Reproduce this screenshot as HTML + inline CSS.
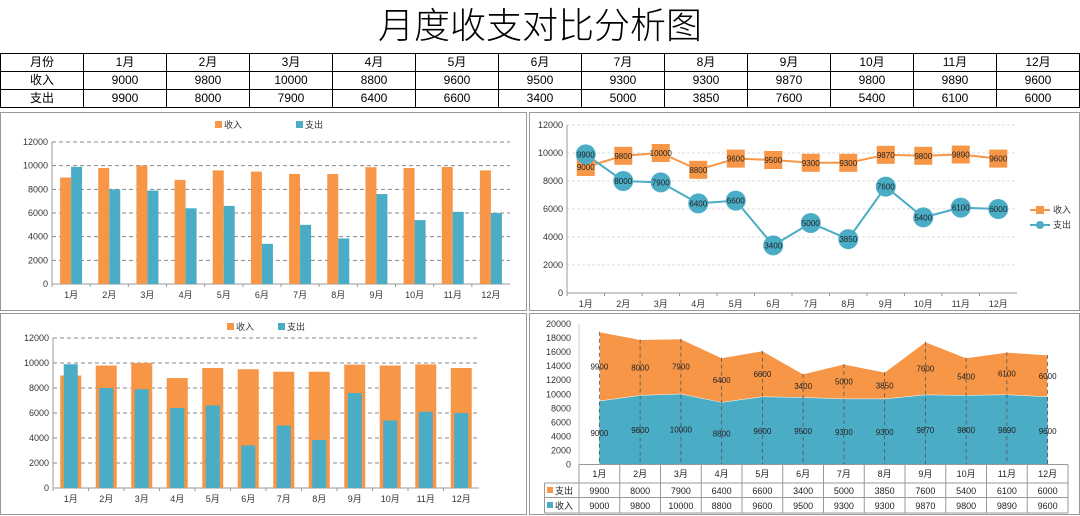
<!DOCTYPE html>
<html><head><meta charset="utf-8">
<style>
body{margin:0;background:#fff;width:1080px;height:516px;overflow:hidden;font-family:"Liberation Sans","Noto Sans CJK SC",sans-serif}
#title{position:absolute;left:0;top:4px;width:1080px;text-align:center;font-family:"Liberation Sans","Noto Sans CJK SC",sans-serif;font-weight:300;font-size:36px;line-height:44px;color:#000}
#tbl{position:absolute;left:0;top:53px;border-collapse:collapse;font-family:"Liberation Sans","Noto Sans CJK SC",sans-serif;font-size:12px}
#tbl td{border:1px solid #000;width:82px;height:17px;padding:0;text-align:center;line-height:17px}
svg{position:absolute;left:0;top:0}
</style></head><body>
<div id="title">月度收支对比分析图</div>
<table id="tbl">
<tr><td>月份</td><td>1月</td><td>2月</td><td>3月</td><td>4月</td><td>5月</td><td>6月</td><td>7月</td><td>8月</td><td>9月</td><td>10月</td><td>11月</td><td>12月</td></tr>
<tr><td>收入</td><td>9000</td><td>9800</td><td>10000</td><td>8800</td><td>9600</td><td>9500</td><td>9300</td><td>9300</td><td>9870</td><td>9800</td><td>9890</td><td>9600</td></tr>
<tr><td>支出</td><td>9900</td><td>8000</td><td>7900</td><td>6400</td><td>6600</td><td>3400</td><td>5000</td><td>3850</td><td>7600</td><td>5400</td><td>6100</td><td>6000</td></tr>
</table>
<svg id="s" width="1080" height="516"></svg>
<script>
const categories=["1月","2月","3月","4月","5月","6月","7月","8月","9月","10月","11月","12月"];
const income=[9000,9800,10000,8800,9600,9500,9300,9300,9870,9800,9890,9600];
const expense=[9900,8000,7900,6400,6600,3400,5000,3850,7600,5400,6100,6000];
const ticks12=[0,2000,4000,6000,8000,10000,12000];
const ticks20=[0,2000,4000,6000,8000,10000,12000,14000,16000,18000,20000];
const OR="#F79646",BL="#4BACC6";
const svg=document.getElementById('s');
const NS="http://www.w3.org/2000/svg";
function mk(tag,at,parent,txt){const e=document.createElementNS(NS,tag);for(const k in at)e.setAttribute(k,at[k]);if(txt!==undefined)e.textContent=txt;(parent||svg).appendChild(e);return e;}
function grp(name){const g=mk('g',{});return g;}
function panel(x,y,w,h,name){const r=mk('rect',{x:x+.5,y:y+.5,width:w,height:h,fill:'#fff',stroke:'#999','stroke-width':1});}
panel(0,112,526,198,'bar-chart-panel');panel(529,112,550,198,'line-chart-panel');
panel(0,313,526,201,'overlap-bar-chart-panel');panel(529,313,550,201,'area-chart-panel');
const FS="font-family:'Liberation Sans','Noto Sans CJK SC',sans-serif";
function axes(g,L,R,T,B,max,ticks,gridCol,dash){
  const y=v=>B-(v/max)*(B-T);
  ticks.forEach(t=>{
    if(t>0)mk('line',{x1:L,x2:R,y1:y(t),y2:y(t),stroke:gridCol,'stroke-dasharray':dash},g);
    mk('text',{x:L-4,y:y(t)+3,'text-anchor':'end','font-size':9,fill:'#333',style:FS},g,t);
  });
  mk('line',{x1:L,x2:L,y1:T,y2:B,stroke:'#999'},g);
  mk('line',{x1:L,x2:R,y1:B,y2:B,stroke:'#999'},g);
  return y;
}
function legendBox(g,x,y,col,txt){mk('rect',{x:x,y:y-4,width:7,height:7,fill:col},g);mk('text',{x:x+9,y:y+3,'font-size':9,fill:'#333',style:FS},g,txt);}
(function(){
  const g=grp('clustered-bar-chart');const L=52,R=510,T=142,B=284;
  const y=axes(g,L,R,T,B,12000,ticks12,'#888','4,3');
  const cw=(R-L)/categories.length;
  categories.forEach((c,i)=>{
    const cx=L+cw*(i+.5);
    mk('line',{x1:L+cw*i,x2:L+cw*i,y1:B,y2:B+3,stroke:'#999'},g);
    const b1=mk('rect',{x:cx-11,y:y(income[i]),width:11,height:B-y(income[i]),fill:OR},g);
    
    const b2=mk('rect',{x:cx,y:y(expense[i]),width:11,height:B-y(expense[i]),fill:BL},g);
    
    mk('text',{x:cx,y:298,'text-anchor':'middle','font-size':9,fill:'#333',style:FS},g,c);
  });
  legendBox(g,215,125,OR,'收入');legendBox(g,296,125,BL,'支出');
})();
(function(){
  const g=grp('line-chart');const L=567,R=1017,T=125,B=293;
  const y=axes(g,L,R,T,B,12000,ticks12,'#ddd','3,2');
  const cw=(R-L)/categories.length;const X=i=>L+cw*(i+.5);
  categories.forEach((c,i)=>{mk('line',{x1:L+cw*i,x2:L+cw*i,y1:B,y2:B+3,stroke:'#999'},g);
    mk('text',{x:X(i),y:307,'text-anchor':'middle','font-size':9,fill:'#333',style:FS},g,c);});
  mk('polyline',{points:income.map((v,i)=>X(i)+','+y(v)).join(' '),fill:'none',stroke:OR,'stroke-width':2},g);
  mk('polyline',{points:expense.map((v,i)=>X(i)+','+y(v)).join(' '),fill:'none',stroke:BL,'stroke-width':2},g);
  income.forEach((v,i)=>{const r=mk('rect',{x:X(i)-9,y:y(v)-9,width:18,height:18,fill:OR},g);
    
    mk('text',{x:X(i),y:y(v)+3,'text-anchor':'middle','font-size':8,fill:'#222',style:FS},g,v);});
  expense.forEach((v,i)=>{const r=mk('circle',{cx:X(i),cy:y(v),r:10,fill:BL},g);
    
    mk('text',{x:X(i),y:y(v)+3,'text-anchor':'middle','font-size':8,fill:'#222',style:FS},g,v);});
  mk('line',{x1:1030,x2:1050,y1:210,y2:210,stroke:OR,'stroke-width':2},g);mk('rect',{x:1036,y:206,width:8,height:8,fill:OR},g);
  mk('text',{x:1053,y:213,'font-size':9,fill:'#333',style:FS},g,'收入');
  mk('line',{x1:1030,x2:1050,y1:225,y2:225,stroke:BL,'stroke-width':2},g);mk('circle',{cx:1040,cy:225,r:4,fill:BL},g);
  mk('text',{x:1053,y:228,'font-size':9,fill:'#333',style:FS},g,'支出');
})();
(function(){
  const g=grp('overlap-bar-chart');const L=53,R=479,T=338,B=488;
  const y=axes(g,L,R,T,B,12000,ticks12,'#888','4,3');
  const cw=(R-L)/categories.length;
  categories.forEach((c,i)=>{
    const cx=L+cw*(i+.5);
    mk('line',{x1:L+cw*i,x2:L+cw*i,y1:B,y2:B+3,stroke:'#999'},g);
    const b1=mk('rect',{x:cx-10.5,y:y(income[i]),width:21,height:B-y(income[i]),fill:OR},g);
    
    const b2=mk('rect',{x:cx-7,y:y(expense[i]),width:14,height:B-y(expense[i]),fill:BL},g);
    
    mk('text',{x:cx,y:502,'text-anchor':'middle','font-size':9,fill:'#333',style:FS},g,c);
  });
  legendBox(g,227,327,OR,'收入');legendBox(g,278,327,BL,'支出');
})();
(function(){
  const g=grp('stacked-area-chart');const L=579,R=1068,T=324,B=464.5,HL=544.5;
  const y=v=>B-(v/20000)*(B-T);
  const cw=(R-L)/categories.length;const X=i=>L+cw*(i+.5);
  ticks20.forEach(t=>mk('text',{x:L-8,y:y(t)+3,'text-anchor':'end','font-size':9,fill:'#333',style:FS},g,t));
  mk('line',{x1:L,x2:L,y1:T,y2:B,stroke:'#ccc'},g);
  const top=income.map((v,i)=>X(i)+','+y(v+expense[i]));
  const mid=income.map((v,i)=>X(i)+','+y(v));
  const a2=mk('polygon',{points:top.join(' ')+' '+mid.slice().reverse().join(' '),fill:OR,stroke:'#fff','stroke-width':1},g);
  
  const a1=mk('polygon',{points:mid.join(' ')+' '+X(11)+','+B+' '+X(0)+','+B,fill:BL},g);
  
  categories.forEach((c,i)=>{
    mk('line',{x1:X(i),x2:X(i),y1:y(income[i]+expense[i]),y2:B,stroke:'#555','stroke-dasharray':'4,3','stroke-width':0.8},g);
    mk('text',{x:X(i),y:y(income[i]+expense[i]/2)+3,'text-anchor':'middle','font-size':8,fill:'#222',style:FS},g,expense[i]);
    mk('text',{x:X(i),y:y(income[i]/2)+3,'text-anchor':'middle','font-size':8,fill:'#222',style:FS},g,income[i]);
  });
  const rows=[464.5,483,497.5,513];
  mk('line',{x1:L,x2:R,y1:rows[0],y2:rows[0],stroke:'#999'},g);
  for(let r=1;r<4;r++)mk('line',{x1:HL,x2:R,y1:rows[r],y2:rows[r],stroke:'#999'},g);
  mk('line',{x1:HL,x2:HL,y1:rows[1],y2:rows[3],stroke:'#999'},g);
  for(let i=0;i<=12;i++)mk('line',{x1:L+cw*i,x2:L+cw*i,y1:rows[0],y2:rows[3],stroke:'#999'},g);
  categories.forEach((c,i)=>{
    mk('text',{x:X(i),y:477,'text-anchor':'middle','font-size':9,fill:'#222',style:FS},g,c);
    mk('text',{x:X(i),y:494,'text-anchor':'middle','font-size':9,fill:'#222',style:FS},g,expense[i]);
    mk('text',{x:X(i),y:509,'text-anchor':'middle','font-size':9,fill:'#222',style:FS},g,income[i]);
  });
  mk('rect',{x:547,y:487,width:6,height:6,fill:OR},g);mk('text',{x:555,y:494,'font-size':9,fill:'#222',style:FS},g,'支出');
  mk('rect',{x:547,y:502,width:6,height:6,fill:BL},g);mk('text',{x:555,y:509,'font-size':9,fill:'#222',style:FS},g,'收入');
})();
</script>
</body></html>
